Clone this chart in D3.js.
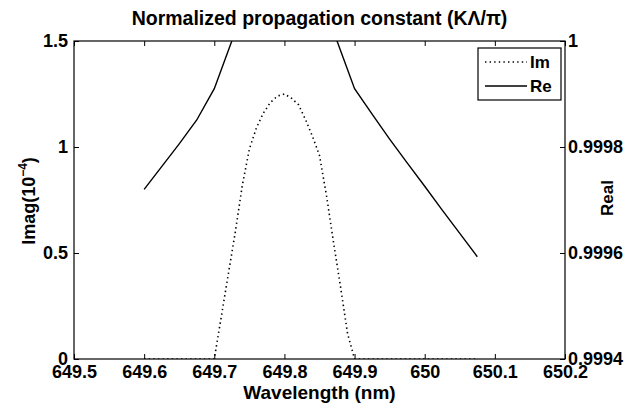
<!DOCTYPE html>
<html>
<head>
<meta charset="utf-8">
<script src="https://cdn.jsdelivr.net/npm/d3@7"></script>
<style>
  html, body { margin: 0; padding: 0; background: #fff; }
  svg { display: block; font-family: "Liberation Sans", Arial, sans-serif; }
</style>
</head>
<body>
<svg id="chart" width="626" height="406"></svg>
<script>
// Wavelength samples (nm) and imaginary part of the normalized propagation constant (x1e-4)
const imWavelength = [649.60, 649.65, 649.70, 649.71, 649.72, 649.73, 649.74, 649.75, 649.76, 649.77,
                      649.78, 649.79, 649.80, 649.81, 649.82, 649.83, 649.84, 649.85, 649.86, 649.87,
                      649.88, 649.89, 649.90, 649.95, 650.00, 650.05, 650.075];
const imValues     = [0, 0, 0, 0.20, 0.40, 0.60, 0.82, 0.99, 1.09, 1.16,
                      1.21, 1.24, 1.25, 1.23, 1.20, 1.13, 1.05, 0.96, 0.77, 0.55,
                      0.34, 0.12, 0, 0, 0, 0, 0];

// Wavelength samples (nm) and real part (right axis); the band-edge values exceed the axis top
const reWavelength = [649.600, 649.625, 649.650, 649.675, 649.700, 649.725, 649.750, 649.800, 649.850,
                      649.875, 649.900, 649.925, 649.950, 649.975, 650.000, 650.025, 650.050, 650.075];
const reValues     = [0.999720, 0.999763, 0.999806, 0.999851, 0.999910, 1.000000, 1.000100, 1.000150, 1.000100,
                      1.000000, 0.999910, 0.999862, 0.999815, 0.999770, 0.999726, 0.999681, 0.999637, 0.999593];

// Axis ticks
const xTicks = [649.5, 649.6, 649.7, 649.8, 649.9, 650.0, 650.1, 650.2];
const xTickLabels = ["649.5", "649.6", "649.7", "649.8", "649.9", "650", "650.1", "650.2"];
const yLeftTicks = [0, 0.5, 1, 1.5];
const yLeftTickLabels = ["0", "0.5", "1", "1.5"];
const yRightTicks = [0.9994, 0.9996, 0.9998, 1.0];
const yRightTickLabels = ["0.9994", "0.9996", "0.9998", "1"];

const legendNames = ["Im", "Re"];

const svg = d3.select("#chart");
const plot = { left: 74, right: 565, top: 41, bottom: 359 };

const x = d3.scaleLinear().domain([649.5, 650.2]).range([plot.left, plot.right]);
const yL = d3.scaleLinear().domain([0, 1.5]).range([plot.bottom, plot.top]);
const yR = d3.scaleLinear().domain([0.9994, 1.0]).range([plot.bottom, plot.top]);

svg.append("defs").append("clipPath").attr("id", "plotClip")
  .append("rect")
  .attr("x", plot.left).attr("y", plot.top)
  .attr("width", plot.right - plot.left).attr("height", plot.bottom - plot.top);

const fmt = (ticks, labels) => d => labels[ticks.indexOf(d)];

// Axes with inward ticks
const gx = svg.append("g").attr("transform", `translate(0,${plot.bottom})`)
  .call(d3.axisBottom(x).tickValues(xTicks).tickFormat(fmt(xTicks, xTickLabels))
    .tickSizeInner(-5).tickSizeOuter(0).tickPadding(6));
const gxTop = svg.append("g").attr("transform", `translate(0,${plot.top})`)
  .call(d3.axisTop(x).tickValues(xTicks).tickFormat("").tickSizeInner(-5).tickSizeOuter(0));
const gyL = svg.append("g").attr("transform", `translate(${plot.left},0)`)
  .call(d3.axisLeft(yL).tickValues(yLeftTicks).tickFormat(fmt(yLeftTicks, yLeftTickLabels))
    .tickSizeInner(-5).tickSizeOuter(0).tickPadding(6));
const gyR = svg.append("g").attr("transform", `translate(${plot.right},0)`)
  .call(d3.axisRight(yR).tickValues(yRightTicks).tickFormat(fmt(yRightTicks, yRightTickLabels))
    .tickSizeInner(-5).tickSizeOuter(0).tickPadding(3));

[gx, gxTop, gyL, gyR].forEach(g => {
  g.select(".domain").remove();
  g.selectAll("line").attr("stroke", "#000").attr("stroke-width", 1);
  g.selectAll("text").attr("fill", "#000").attr("font-size", 18).attr("font-weight", "bold")
    .attr("font-family", "'Liberation Sans', Arial, sans-serif");
});

// Frame
svg.append("rect")
  .attr("x", plot.left).attr("y", plot.top)
  .attr("width", plot.right - plot.left).attr("height", plot.bottom - plot.top)
  .attr("fill", "none").attr("stroke", "#000").attr("stroke-width", 1.2);

const plotG = svg.append("g").attr("clip-path", "url(#plotClip)");

// Imaginary part: dotted
const imLine = d3.line().x((d, i) => x(imWavelength[i])).y(d => yL(d));
plotG.append("path").datum(imValues)
  .attr("d", imLine)
  .attr("fill", "none").attr("stroke", "#000")
  .attr("stroke-width", 1.6).attr("stroke-dasharray", "1.4,3.2");

// Real part: solid
const reLine = d3.line().x((d, i) => x(reWavelength[i])).y(d => yR(d));
plotG.append("path").datum(reValues)
  .attr("d", reLine)
  .attr("fill", "none").attr("stroke", "#000").attr("stroke-width", 1.4);

// Title and axis labels
svg.append("text")
  .attr("x", (plot.left + plot.right) / 2).attr("y", 25)
  .attr("text-anchor", "middle").attr("font-size", 19.5).attr("font-weight", "bold")
  .text("Normalized propagation constant (KΛ/π)");

svg.append("text")
  .attr("x", (plot.left + plot.right) / 2).attr("y", 399)
  .attr("text-anchor", "middle").attr("font-size", 19).attr("font-weight", "bold")
  .text("Wavelength (nm)");

const yLab = svg.append("text")
  .attr("transform", "translate(35,201) rotate(-90)")
  .attr("text-anchor", "middle").attr("font-size", 18).attr("font-weight", "bold");
yLab.append("tspan").text("Imag(10");
yLab.append("tspan").attr("font-size", 12).attr("dy", -8).text("−4");
yLab.append("tspan").attr("dy", 8).text(")");

svg.append("text")
  .attr("transform", "translate(613,198) rotate(-90)")
  .attr("text-anchor", "middle").attr("font-size", 17).attr("font-weight", "bold")
  .text("Real");

// Legend
const legend = svg.append("g");
legend.append("rect")
  .attr("x", 478).attr("y", 48).attr("width", 83).attr("height", 52)
  .attr("fill", "#fff").attr("stroke", "#000").attr("stroke-width", 1.2);
const legendStyles = [
  { dash: "1.4,3.2", width: 1.6 },
  { dash: null, width: 1.4 }
];
legendNames.forEach((name, i) => {
  const cy = 62 + i * 24;
  legend.append("line")
    .attr("x1", 485).attr("x2", 527).attr("y1", cy).attr("y2", cy)
    .attr("stroke", "#000").attr("stroke-width", legendStyles[i].width)
    .attr("stroke-dasharray", legendStyles[i].dash);
  legend.append("text")
    .attr("x", 530).attr("y", cy).attr("dy", "0.35em")
    .attr("font-size", 17).attr("font-weight", "bold")
    .text(name);
});
</script>
</body>
</html>
